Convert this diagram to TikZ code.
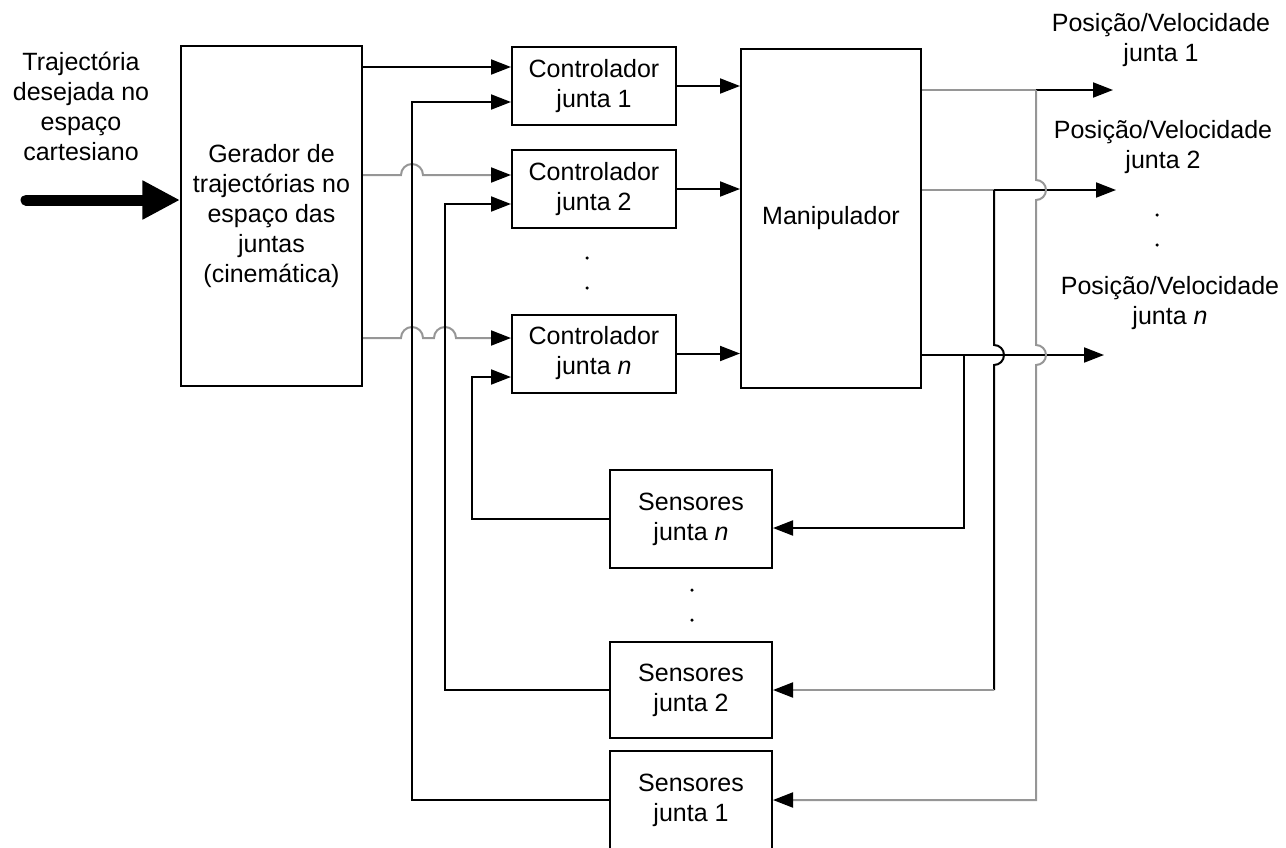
\documentclass[tikz,border=0pt]{standalone}
\usepackage{fontspec}
\setmainfont{Liberation Sans}
\usepackage{xcolor}
\usetikzlibrary{arrows.meta}
\definecolor{wiregray}{RGB}{150,150,150}

\begin{document}
\begin{tikzpicture}[x=0.4pt,y=0.4pt,yscale=-1,xscale=1,
    box/.style={draw,line width=0.8pt,align=center,inner sep=0pt,font=\fontsize{10}{12}\selectfont},
    lbl/.style={align=center,inner sep=0pt,font=\fontsize{10}{12}\selectfont},
    wire/.style={line width=0.8pt},
    sig/.style={wire,-{Triangle[length=8pt,width=6pt,color=black]}}]
        \useasboundingbox (0,0) rectangle (1286,847);

        %Shape: Rectangle [gerador]
        \node[box,minimum width=72.4pt,minimum height=136pt] (gen) at (271.5,216) {Gerador de\\trajectórias no\\espaço das\\juntas\\(cinemática)};
        %Shape: Rectangle [controladores]
        \node[box,minimum width=65.6pt,minimum height=31.2pt] (c1) at (594,86) {Controlador\\junta 1};
        \node[box,minimum width=65.6pt,minimum height=31.2pt] (c2) at (594,189) {Controlador\\junta 2};
        \node[box,minimum width=65.6pt,minimum height=31.2pt] (cn) at (594,353.5) {Controlador\\junta \textit{n}};
        %Shape: Rectangle [manipulador]
        \node[box,minimum width=72pt,minimum height=135.6pt] (man) at (831,218.5) {Manipulador};
        %Shape: Rectangle [sensores]
        \node[box,minimum width=64.8pt,minimum height=39.2pt] (sn) at (691,519) {Sensores\\junta \textit{n}};
        \node[box,minimum width=64.8pt,minimum height=38.4pt] (s2) at (691,690) {Sensores\\junta 2};
        \node[box,minimum width=64.8pt,minimum height=39.2pt] (s1) at (691,800) {Sensores\\junta 1};

        % Text Node
        \node[lbl] (ref) at (81,106) {Trajectória\\desejada no\\espaço\\cartesiano};
        % Text Node
        \node[lbl] (p1) at (1161,40) {Posição/Velocidade\\junta 1};
        % Text Node
        \node[lbl] (p2) at (1163,147.5) {Posição/Velocidade\\junta 2};
        % Text Node
        \node[lbl] (pn) at (1170,303) {Posição/Velocidade\\junta \textit{n}};

        % dots
        \fill (587,258) circle (0.7pt) (587,288) circle (0.7pt);
        \fill (1157,215) circle (0.7pt) (1157,245) circle (0.7pt);
        \fill (692,590) circle (0.7pt) (692,620) circle (0.7pt);

        % entrada
        \draw[line width=4.4pt,line cap=round,-{Triangle[length=15pt,width=14.6pt]}] (26,200) -- (gen.west |- 0,200);

        % gerador -> controladores
        \draw[sig] (gen.east |- 0,67) -- (c1.west |- 0,67);
        \draw[sig,wiregray] (gen.east |- 0,175) -- (401,175) arc[start angle=180,end angle=360,radius=11] -- (c2.west |- 0,175);
        \draw[sig,wiregray] (gen.east |- 0,338) -- (401,338) arc[start angle=180,end angle=360,radius=11] -- (434,338) arc[start angle=180,end angle=360,radius=11] -- (cn.west |- 0,338);

        % sensores -> controladores
        \draw[sig] (s1.west) -| (412,102) -- (c1.west |- 0,102);
        \draw[sig] (s2.west) -| (445,204) -- (c2.west |- 0,204);
        \draw[sig] (sn.west) -| (472,377) -- (cn.west |- 0,377);

        % controladores -> manipulador
        \draw[sig] (c1.east) -- (man.west |- c1.east);
        \draw[sig] (c2.east) -- (man.west |- c2.east);
        \draw[sig] (cn.east) -- (man.west |- cn.east);

        % saidas
        \coordinate (o1) at (1113,90);
        \coordinate (o2) at (1116,190);
        \coordinate (on) at (1104,355);
        \coordinate (b1) at (1036,90);
        \coordinate (b2) at (994,190);
        \coordinate (bn) at (964,355);
        \draw[wire,wiregray] (man.east |- o1) -- (b1);
        \draw[sig] (b1) -- (o1);
        \draw[wire,wiregray] (man.east |- o2) -- (b2);
        \draw[sig] (b2) -- (o2);
        \draw[sig] (man.east |- on) -- (on);

        % realimentacao
        \draw[sig,wiregray] (b1) -- (1036,180) arc[start angle=-90,end angle=90,radius=10] -- (1036,345) arc[start angle=-90,end angle=90,radius=10] -- (b1 |- s1.east) -- (s1.east);
        \draw[wire] (b2) -- (994,345) arc[start angle=-90,end angle=90,radius=10] -- (b2 |- s2.east);
        \draw[sig,wiregray] (b2 |- s2.east) -- (s2.east);
        \draw[sig] (bn) |- ([yshift=3.6pt]sn.east);

\end{tikzpicture}
\end{document}
